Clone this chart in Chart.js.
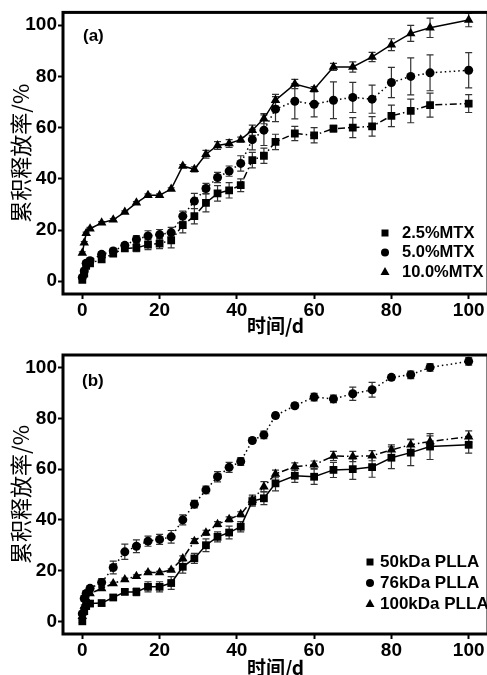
<!DOCTYPE html>
<html>
<head>
<meta charset="utf-8">
<script src="https://cdn.jsdelivr.net/npm/chart.js@4.4.0/dist/chart.umd.min.js"></script>
<style>
html, body { margin: 0; padding: 0; background: #fff; overflow: hidden; width: 487px; height: 675px; }
.wrap { position: absolute; left: 0; }
</style>
</head>
<body>
<div class="wrap" style="top:0"><canvas id="chartA" width="500" height="337"></canvas></div>
<div class="wrap" style="top:337px"><canvas id="chartB" width="500" height="345"></canvas></div>
<script>
// jours de prélèvement (communs aux deux figures)
const days = [0, 0.5, 1, 2, 5, 8, 11, 14, 17, 20, 23, 26, 29, 32, 35, 38, 41, 44, 47, 50, 55, 60, 65, 70, 75, 80, 85, 90, 100];
const xTicks = [0, 20, 40, 60, 80, 100];
const yTicks = [0, 20, 40, 60, 80, 100];

// (a) teneur en MTX
const mtx25 = [0.5, 3, 6, 7, 8.5, 10.8, 12.8, 13, 14.3, 14.7, 16, 21.9, 25.4, 30.6, 34.3, 35.5, 37.5, 47.3, 49, 54.4, 57.7, 57, 59.6, 60, 60.5, 64.6, 66.5, 68.8, 69.4];
const mtx25Err = [0.5, 1, 1, 1, 1, 1, 1, 1.5, 2, 2, 3, 3, 3, 3.5, 3, 3, 2.5, 3, 3, 3, 2.8, 3, 1.3, 3.9, 3.8, 4.2, 4.6, 4.7, 3.5];
const mtx50 = [1.5, 4, 7, 8, 10.5, 11.8, 14, 16.3, 17.7, 18.2, 19, 25.4, 31.3, 36.2, 40.5, 43, 46, 55.3, 59, 67.2, 70.3, 69.1, 70.7, 71.8, 71.1, 77.6, 80, 81.4, 82.4];
const mtx50Err = [0.5, 1, 1, 1, 1, 1, 1, 1.5, 2, 2, 2, 2, 3, 2, 2, 2, 3, 4, 6, 4.9, 6.9, 4.9, 7.2, 5.9, 5.5, 5.9, 7.2, 7, 6.9];
const mtx100 = [11, 15, 18.7, 20.5, 22.8, 24, 27, 30.6, 33.6, 33.6, 36, 45, 43.7, 49.6, 53, 53.8, 55.3, 59, 63.5, 70.7, 77, 75, 83.7, 83.7, 87.6, 92.4, 96.8, 99, 102];
const mtx100Err = [0.5, 0.5, 0.5, 0.5, 0.5, 0.5, 0.5, 0.5, 0.5, 0.5, 0.5, 0.5, 1, 1.5, 1.5, 1.5, 1, 2, 2, 2.3, 1.8, 1, 1.4, 2, 1.8, 2.3, 3.1, 3.8, 2.6];

// (b) masse molaire du PLLA
const pla50 = [0, 4, 6, 7, 7.2, 9.4, 11.6, 11.6, 13.6, 13.6, 15.1, 21.5, 24.8, 30, 33.3, 35, 37.3, 47.4, 48.5, 54.4, 57.4, 57, 59.7, 60, 60.8, 64.5, 66.5, 68.9, 69.6];
const pla50Err = [0.5, 1, 1, 1, 1, 1, 1, 1.5, 2, 2, 2.5, 2.5, 2, 2.5, 2, 2.5, 2, 2, 2.5, 3, 2.6, 3, 3, 4, 4, 4.3, 5.1, 5.1, 3.3];
const pla76 = [3, 9, 11, 13, 15.3, 21.2, 27.4, 29.6, 31.6, 32.3, 33.3, 40, 46.2, 51.8, 57, 60.7, 63, 71.3, 73.5, 81.1, 85, 88.4, 87.7, 89.7, 91.3, 96.2, 97.2, 100.1, 102.5];
const pla76Err = [0.5, 1, 1, 1, 1.5, 2.5, 3, 2.5, 2, 2, 2.5, 2, 1.5, 1.5, 2, 2, 1.5, 1, 1.5, 1, 1, 1.5, 1.5, 2.6, 2.9, 1, 1.5, 1.5, 1.5];
const pla100 = [2, 6, 9, 11, 12.9, 14.9, 16.5, 17.8, 19.2, 19.2, 20.2, 24.8, 31.6, 34.9, 38.3, 40.2, 42.2, 47.8, 53.1, 58.1, 61, 61.7, 65.2, 65, 65.3, 67.6, 69.6, 70.9, 72.8];
const pla100Err = [0.5, 0.5, 0.5, 0.5, 0.5, 0.5, 0.5, 0.5, 0.5, 0.5, 0.5, 1, 1, 1, 1, 1, 1, 2, 2, 1.5, 1.5, 1.5, 1.8, 2, 2, 2, 2.2, 2.2, 2.3];

const latinFont = '"Liberation Sans", Arial, sans-serif';
const cjkFont = '"Noto Sans CJK SC", sans-serif';
const DOT = [1.5, 3];
const DASHDOT = [7, 3, 1.5, 3];

// cadre complet autour de la zone de tracé
const framePlugin = {
    id: 'frame',
    afterDraw(chart) {
        const { ctx, chartArea: a } = chart;
        ctx.save();
        ctx.strokeStyle = '#000';
        ctx.lineWidth = 3;
        ctx.strokeRect(a.left, a.top, a.right - a.left, a.bottom - a.top);
        ctx.restore();
    }
};

// barres d'erreur
const errorBarPlugin = {
    id: 'errorBars',
    beforeDatasetsDraw(chart) {
        const ctx = chart.ctx;
        const yScale = chart.scales.y;
        ctx.save();
        ctx.strokeStyle = '#333';
        ctx.lineWidth = 1.2;
        chart.data.datasets.forEach((ds, i) => {
            const meta = chart.getDatasetMeta(i);
            meta.data.forEach((pt, j) => {
                const v = ds.data[j].y;
                const e = ds.errors[j];
                const y1 = yScale.getPixelForValue(v + e);
                const y2 = yScale.getPixelForValue(v - e);
                ctx.beginPath();
                ctx.moveTo(pt.x, y1); ctx.lineTo(pt.x, y2);
                ctx.moveTo(pt.x - 3.5, y1); ctx.lineTo(pt.x + 3.5, y1);
                ctx.moveTo(pt.x - 3.5, y2); ctx.lineTo(pt.x + 3.5, y2);
                ctx.stroke();
            });
        });
        ctx.restore();
    }
};

function drawMarker(ctx, style, x, y) {
    ctx.beginPath();
    if (style === 'rect') {
        ctx.rect(x - 3.5, y - 3.5, 7, 7);
    } else if (style === 'circle') {
        ctx.arc(x, y, 4, 0, Math.PI * 2);
    } else {
        ctx.moveTo(x, y - 5);
        ctx.lineTo(x + 4.5, y + 3);
        ctx.lineTo(x - 4.5, y + 3);
        ctx.closePath();
    }
    ctx.fill();
}

// légende et étiquette du panneau
const legendPlugin = {
    id: 'innerLegend',
    afterDraw(chart, args, o) {
        const ctx = chart.ctx;
        ctx.save();
        ctx.fillStyle = '#000';
        ctx.textBaseline = 'middle';
        ctx.font = 'bold 17px ' + latinFont;
        ctx.fillText(o.tag, o.tagX, o.tagY);
        ctx.font = 'bold ' + o.size + 'px ' + latinFont;
        chart.data.datasets.forEach((ds, i) => {
            const y = o.y + i * o.step;
            drawMarker(ctx, ds.pointStyle, o.markerX, y);
            ctx.fillText(ds.label, o.textX, y);
        });
        ctx.restore();
    }
};

function buildChart(id, cfg) {
    const ctx = document.getElementById(id).getContext('2d');
    return new Chart(ctx, {
        type: 'line',
        data: {
            datasets: cfg.series.map(s => ({
                label: s.label,
                data: days.map((d, i) => ({ x: d, y: s.values[i] })),
                errors: s.errors,
                borderColor: '#000',
                backgroundColor: '#000',
                borderWidth: 1.5,
                borderDash: s.dash,
                pointStyle: s.marker,
                pointRadius: s.radius,
                pointHoverRadius: s.radius,
                pointBackgroundColor: '#000',
                pointBorderColor: '#000',
                pointBorderWidth: 0,
                tension: 0,
                fill: false
            }))
        },
        options: {
            responsive: false,
            animation: false,
            events: [],
            layout: { padding: cfg.padding },
            plugins: {
                legend: { display: false },
                tooltip: { enabled: false },
                innerLegend: cfg.legend
            },
            scales: {
                x: {
                    type: 'linear',
                    min: -5,
                    max: 105,
                    afterBuildTicks: s => { s.ticks = xTicks.map(v => ({ value: v })); },
                    afterFit: s => { s.height = cfg.xHeight; },
                    grid: { drawOnChartArea: false, tickLength: 5, tickWidth: 2, tickColor: '#000' },
                    border: { display: false },
                    ticks: { color: '#000', padding: 0, maxRotation: 0, font: { family: latinFont, size: 19, weight: 'bold' } },
                    title: {
                        display: true, text: '时间/d', color: '#000',
                        font: { family: cjkFont, size: 19, weight: 'bold' },
                        padding: { top: 0, bottom: cfg.xTitlePad }
                    }
                },
                y: {
                    min: -5,
                    max: 105,
                    afterBuildTicks: s => { s.ticks = yTicks.map(v => ({ value: v })); },
                    afterFit: s => { s.width = 63; },
                    grid: { drawOnChartArea: false, tickLength: 5, tickWidth: 2, tickColor: '#000' },
                    border: { display: false },
                    ticks: { color: '#000', padding: 1, font: { family: latinFont, size: 19, weight: 'bold' } },
                    title: {
                        display: true, text: '累积释放率/%', color: '#000',
                        font: { family: cjkFont, size: 22, weight: 'normal' },
                        padding: { top: 7, bottom: 0 }
                    }
                }
            }
        },
        plugins: [errorBarPlugin, framePlugin, legendPlugin]
    });
}

buildChart('chartA', {
    padding: { top: 12, right: 12, left: 0, bottom: 0 },
    xHeight: 43,
    xTitlePad: 0,
    series: [
        { label: '2.5%MTX', values: mtx25, errors: mtx25Err, marker: 'rect', radius: 5.5, dash: DASHDOT },
        { label: '5.0%MTX', values: mtx50, errors: mtx50Err, marker: 'circle', radius: 4.5, dash: DOT },
        { label: '10.0%MTX', values: mtx100, errors: mtx100Err, marker: 'triangle', radius: 5.5, dash: [] }
    ],
    legend: { tag: '(a)', tagX: 83, tagY: 36, size: 16.5, markerX: 385, textX: 402, y: 233, step: 19.5 }
});

buildChart('chartB', {
    padding: { top: 18, right: 12, left: 0, bottom: 0 },
    xHeight: 48,
    xTitlePad: 3,
    series: [
        { label: '50kDa PLLA', values: pla50, errors: pla50Err, marker: 'rect', radius: 5.5, dash: [] },
        { label: '76kDa PLLA', values: pla76, errors: pla76Err, marker: 'circle', radius: 4.5, dash: DOT },
        { label: '100kDa PLLA', values: pla100, errors: pla100Err, marker: 'triangle', radius: 5.5, dash: DASHDOT }
    ],
    legend: { tag: '(b)', tagX: 82, tagY: 44, size: 17, markerX: 370, textX: 380, y: 225, step: 21 }
});
</script>
</body>
</html>
